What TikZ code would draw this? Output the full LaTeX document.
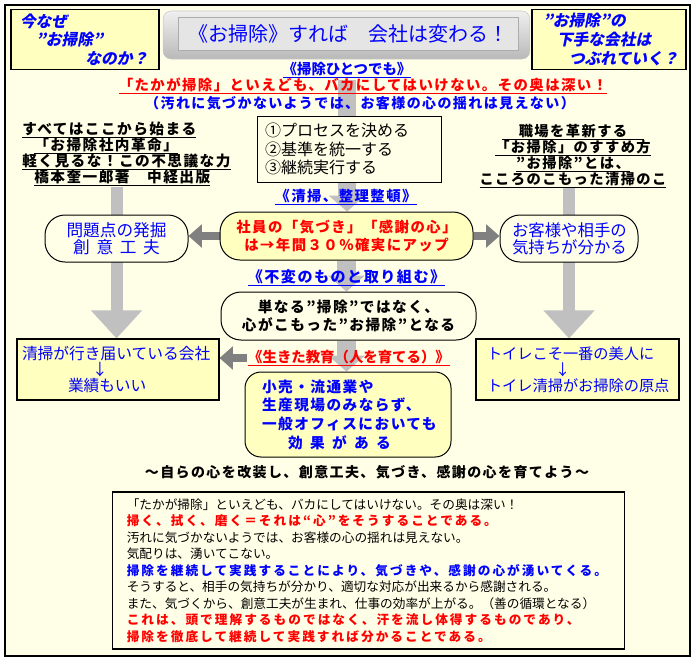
\documentclass[tikz,border=0pt]{standalone}
\usepackage{fontspec}
\setmainfont{Noto Sans CJK JP}
\newfontfamily\jpsp{Noto Sans CJK JP}[LetterSpace=10]
\newfontfamily\jpwide{Noto Sans CJK JP}[LetterSpace=16]
\newfontfamily\jpslant{Noto Sans CJK JP}[FakeSlant=0.2]
\usetikzlibrary{arrows.meta}

\definecolor{cream}{RGB}{255,255,232}
\definecolor{paleyellow}{RGB}{255,255,192}
\definecolor{bargray}{RGB}{192,192,192}
\definecolor{arrowgray}{RGB}{128,128,128}
\definecolor{jblue}{RGB}{0,0,255}
\definecolor{jred}{RGB}{255,0,0}

\newcommand\sgap{\hspace{.5em}}
\setlength{\lineskiplimit}{-20pt}

\pgfdeclarelayer{back}
\pgfdeclarelayer{bars}
\pgfsetlayers{back,bars,main}

\tikzset{
  box/.style={draw, line width=0.8pt, fill=paleyellow},
  pill/.style={draw, line width=0.75pt, fill=cream, rounded corners=15pt, inner sep=0pt},
  heading/.style={inner sep=1pt, font=\jpsp\bfseries\fontsize{10.8}{13}\selectfont},
  button/.style={rounded corners=6pt, top color=gray!12, bottom color=gray!55, draw=gray!45},
  plate/.style={inner sep=0pt, fill=gray!20, draw=gray!65, text=jblue, font=\fontsize{15}{18}\selectfont},
  midbar/.style={line width=14pt, draw=bargray, -{Triangle[width=27pt,length=12pt]}},
  bigbar/.style={line width=9pt, draw=bargray, -{Triangle[width=37pt,length=21pt]}},
  sidearrow/.style={line width=6pt, draw=arrowgray, -{Triangle[width=17pt,length=10pt]}}
}

\begin{document}
\begin{tikzpicture}[x=0.75pt,y=-0.75pt]
\useasboundingbox (0,0) rectangle (698,662);
\begin{pgfonlayer}{back}
\fill[white] (0,0) rectangle (698,662);
\draw[fill=cream, line width=1.5pt] (5,5) rectangle (690,656);
\end{pgfonlayer}

% top row
\node[box, minimum width=111pt, minimum height=45pt, text width=97.5pt, inner xsep=6.75pt, align=left, text=jblue,
  font=\jpslant\bfseries\fontsize{11.8}{13.9}\selectfont] (naze) at (85,39.5)
  {今なぜ\\\hspace*{12pt}”お掃除”\\\hspace*{49pt}なのか？};
\node[button, minimum width=275pt, minimum height=36pt] (btn) at (346.5,35) {};
\node[plate, minimum width=255pt, minimum height=24.75pt] (title) at (348,33.5) {《お掃除》すれば　会社は変わる！};
\node[box, minimum width=115.5pt, minimum height=45pt, text width=99pt, inner xsep=8.25pt, align=left, text=jblue,
  font=\jpslant\bfseries\fontsize{11.8}{13.9}\selectfont] (heta) at (609,39.5)
  {”お掃除”の\\\hspace*{10.5pt}下手な会社は\\\hspace*{19.5pt}つぶれていく？};

\node[heading, text=jblue, font=\bfseries\fontsize{10.8}{13}\selectfont] (hitotsu) at (347,70) {\underline{《掃除ひとつでも》}};
\node[heading, text=jred] (takaga) at (363,86) {\underline{「たかが掃除」といえども、バカにしてはいけない。その奥は深い！}};
\node[heading, text=jblue, font=\jpsp\bfseries\fontsize{10.5}{13}\selectfont] (yogore) at (360,103) {（汚れに気づかないようでは、お客様の心の揺れは見えない）};

% books and process
\node[anchor=west, inner sep=0pt, align=left,
  font=\jpsp\bfseries\fontsize{11}{12}\selectfont] (book) at (22,154)
  {\underline{すべてはここから始まる}\\\hspace*{9pt}\underline{「お掃除社内革命」}\\
   \underline{軽く見るな！この不思議な力}\\\hspace*{9pt}\underline{橋本奎一郎著　中経出版}};
\node[draw, line width=0.75pt, fill=cream, minimum width=138pt, minimum height=49.5pt, text width=126pt, inner xsep=6pt,
  align=left, font=\fontsize{12}{14}\selectfont] (proc) at (349,149)
  {①プロセスを決める\\②基準を統一する\\③継続実行する};
\node[inner sep=0pt, align=center, font=\jpsp\bfseries\fontsize{10.7}{12}\selectfont] (susume) at (573,156)
  {\underline{\hspace*{1.2em}職場を革新する\hspace*{1.2em}}\\\underline{「お掃除」のすすめ方}\\
   \underline{”お掃除”とは、}\\\underline{こころのこもった清掃のこ}};

\node[heading, text=jblue] (seiso) at (346,197) {\underline{《清掃、整理整頓》}};

% middle row
\node[pill, fill=paleyellow, minimum width=189.75pt, minimum height=36pt, align=center, text=jred,
  font=\jpsp\bfseries\fontsize{10.8}{13.5}\selectfont] (shain) at (346.5,236)
  {社員の「気づき」「感謝の心」\\は→年間３０％確実にアップ};
\node[pill, minimum width=107.25pt, minimum height=35.25pt, align=center, text=jblue,
  font=\fontsize{12.5}{12.75}\selectfont] (prob) at (116.5,238.5)
  {問題点の発掘\\創\hspace{.4em}意\hspace{.4em}工\hspace{.4em}夫};
\node[pill, minimum width=103.5pt, minimum height=35.25pt, text width=85.5pt, align=left, text=jblue,
  font=\fontsize{12.3}{12.75}\selectfont] (okyaku) at (569,238.5)
  {お客様や相手の\\気持ちが分かる};

\node[heading, text=jblue, font=\jpsp\bfseries\fontsize{11.3}{13}\selectfont] (fuhen) at (346.5,278) {\underline{《不変のものと取り組む》}};
\node[pill, minimum width=191.25pt, minimum height=36pt, align=center,
  font=\jpsp\bfseries\fontsize{11}{13.5}\selectfont] (tannaru) at (348.5,316)
  {単なる”掃除”ではなく、\\心がこもった”お掃除”となる};
\node[heading, text=jred, font=\bfseries\fontsize{10.8}{13}\selectfont] (ikita) at (349,358) {\underline{《生きた教育（人を育てる）》}};

% lower row
\node[box, minimum width=151.5pt, minimum height=45.75pt, text width=144pt, inner xsep=3.75pt, align=left, text=jblue,
  font=\fontsize{11.8}{11.8}\selectfont] (leftbox) at (118,369.5)
  {清掃が行き届いている会社\\\hspace*{52.5pt}↓\\\hspace*{34.5pt}業績もいい};
\node[box, minimum width=152.25pt, minimum height=45.75pt, text width=135.75pt, inner xsep=8.25pt, align=left, text=jblue,
  font=\fontsize{11.4}{11.8}\selectfont] (rightbox) at (577.5,369.5)
  {トイレこそ一番の美人に\\\hspace*{51pt}↓\\トイレ清掃がお掃除の原点};
\node[pill, rounded corners=12pt, fill=paleyellow, minimum width=154.5pt, minimum height=63.75pt, text width=129pt,
  inner xsep=12.75pt, align=left, text=jblue, font=\jpsp\bfseries\fontsize{11}{14}\selectfont] (kouri) at (348,414.5)
  {小売・流通業や\\生産現場のみならず、\\一般オフィスにおいても\\\hspace*{19.5pt}効\sgap 果\sgap が\sgap あ\sgap る};

\node[heading, font=\jpsp\bfseries\fontsize{10.5}{13}\selectfont] (mizukara) at (367,472)
  {～自らの心を改装し、創意工夫、気づき、感謝の心を育てよう～};

% summary
\node[draw, line width=0.9pt, fill=cream, text width=363pt, inner xsep=10.5pt, minimum height=117.75pt, align=left,
  font=\fontsize{9.5}{12.4}\selectfont] (note) at (368.75,570.5)
  {「たかが掃除」といえども、バカにしてはいけない。その奥は深い！\\
   {\jpwide\bfseries\color{jred}掃く、拭く、磨く＝それは“心”をそうすることである。}\\
   汚れに気づかないようでは、お客様の心の揺れは見えない。\\
   気配りは、湧いてこない。\\
   {\jpwide\bfseries\color{jblue}掃除を継続して実践することにより、気づきや、感謝の心が湧いてくる。}\\
   そうすると、相手の気持ちが分かり、適切な対応が出来るから感謝される。\\
   また、気づくから、創意工夫が生まれ、仕事の効率が上がる。（善の循環となる）\\
   {\jpwide\bfseries\color{jred}これは、頭で理解するものではなく、汗を流し体得するものであり、}\\
   {\jpwide\bfseries\color{jred}掃除を徹底して継続して実践すれば分かることである。}};

\begin{pgfonlayer}{bars}
\draw[midbar] (hitotsu.south) -- (hitotsu.south |- shain.north);
\draw[midbar] (shain.south) -- (shain.south |- tannaru.north);
\draw[midbar] (shain.south |- tannaru.south) -- (shain.south |- kouri.north);
\draw[bigbar] (prob.center |- book.south) -- (prob.center |- leftbox.north);
\draw[bigbar] (okyaku.center |- susume.south) -- (okyaku.center |- rightbox.north);
\draw[sidearrow] (shain.west) -- (shain.west -| prob.east);
\draw[sidearrow] (shain.east) -- (shain.east -| okyaku.west);
\draw[sidearrow] (ikita.west) -- (ikita.west -| leftbox.east);
\end{pgfonlayer}
\end{tikzpicture}
\end{document}
